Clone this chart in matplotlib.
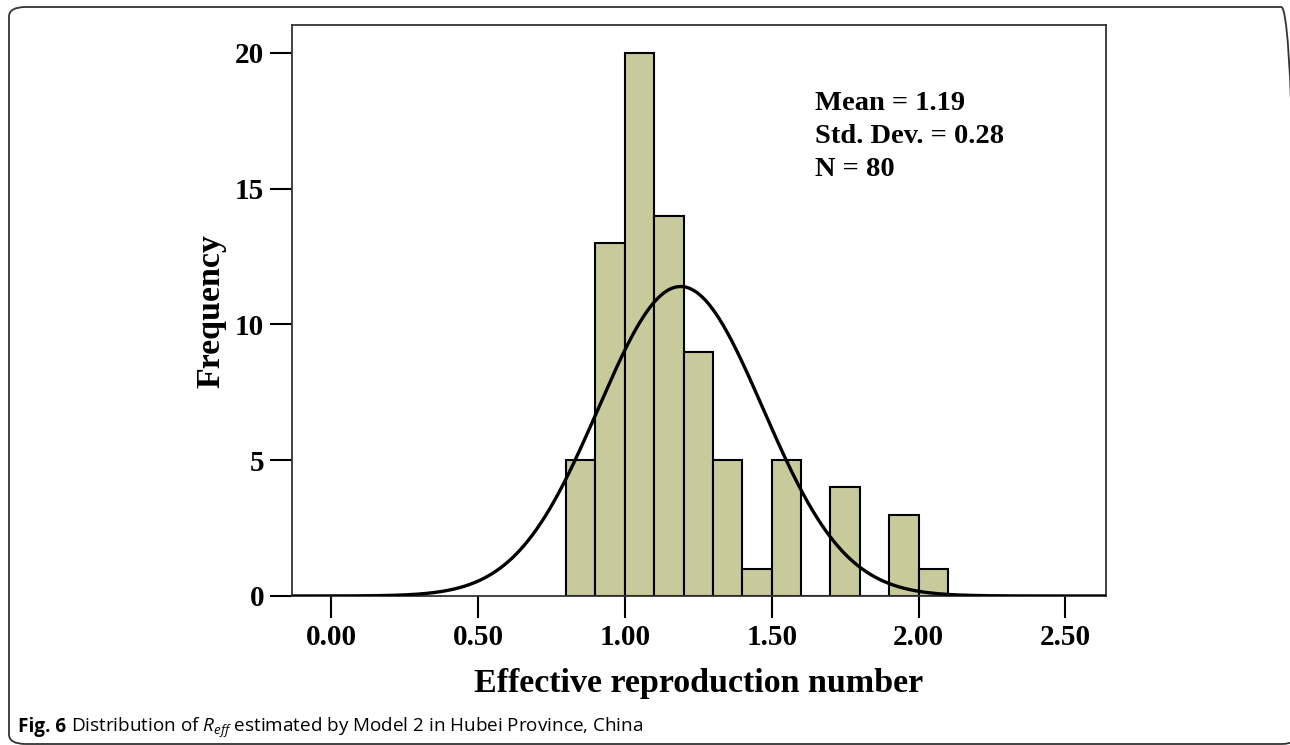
import numpy as np
import matplotlib
matplotlib.use("Agg")
import matplotlib.pyplot as plt
from matplotlib.patches import FancyBboxPatch

# histogram of R_eff (bin edges 0.8 .. 2.1, width 0.1)
bin_edges = [0.8, 0.9, 1.0, 1.1, 1.2, 1.3, 1.4, 1.5, 1.6, 1.7, 1.8, 1.9, 2.0, 2.1]
counts = [5, 13, 20, 14, 9, 5, 1, 5, 0, 4, 0, 3, 1]

mean_val = 1.19
std_val = 0.28
n_obs = 80

x_ticks = [0.0, 0.5, 1.0, 1.5, 2.0, 2.5]
y_ticks = [0, 5, 10, 15, 20]

serif = "Liberation Serif"
plt.rcParams["mathtext.fontset"] = "custom"
plt.rcParams["mathtext.rm"] = "Open Sans"
plt.rcParams["mathtext.it"] = "Open Sans:italic"
plt.rcParams["mathtext.bf"] = "Open Sans:bold"

W, H = 1290, 745
fig = plt.figure(figsize=(W / 100, H / 100), dpi=100)
ax = fig.add_axes([292 / W, 1 - 596 / H, (1106 - 292) / W, (596 - 25) / H])

# bars
edges = np.array(bin_edges)
ax.bar(edges[:-1], counts, width=np.diff(edges), align="edge",
       color="#c8ca9c", edgecolor="black", linewidth=1.5, zorder=2)

# fitted normal curve
xs = np.linspace(-0.14, 2.64, 600)
bw = edges[1] - edges[0]
ys = n_obs * bw / (std_val * np.sqrt(2 * np.pi)) * np.exp(-0.5 * ((xs - mean_val) / std_val) ** 2)
ax.plot(xs, ys, color="black", linewidth=2.4, zorder=3)

ax.set_xlim(-0.133, 2.638)
ax.set_ylim(0, 21.03)
ax.set_xticks(x_ticks)
ax.set_xticklabels([f"{v:.2f}" for v in x_ticks])
ax.set_yticks(y_ticks)

for sp in ax.spines.values():
    sp.set_color("#333333")
    sp.set_linewidth(1.3)

ax.tick_params(direction="out", length=16, width=1.5, color="black", pad=4)
for lab in ax.get_xticklabels() + ax.get_yticklabels():
    lab.set_fontfamily(serif)
    lab.set_fontweight("bold")
    lab.set_fontsize(21)

ax.set_xlabel("Effective reproduction number", fontfamily=serif,
              fontweight="bold", fontsize=24.5)
ax.set_ylabel("Frequency", fontfamily=serif, fontweight="bold", fontsize=24.5)
ax.xaxis.set_label_coords(0.5, -0.126)
ax.yaxis.set_label_coords(-0.081, 0.5)

# stats box
stats = [f"Mean = {mean_val:.2f}", f"Std. Dev. = {std_val:.2f}", f"N = {n_obs}"]
for i, s in enumerate(stats):
    ax.text(0.6425, 0.851 - i * 0.0578, s, transform=ax.transAxes,
            fontfamily=serif, fontweight="bold", fontsize=20.5,
            ha="left", va="baseline")

# caption: bold "Fig. 6" then the rest right after it
cap_y = 1 - 732 / H
t1 = fig.text(18 / W, cap_y, "Fig. 6", fontfamily="Open Sans",
              fontweight="bold", fontsize=13.6, ha="left", va="baseline")
renderer = fig.canvas.get_renderer()
x_end = t1.get_window_extent(renderer).x1
fig.text((x_end + 5) / W, cap_y,
         r"Distribution of $R_{eff}$ estimated by Model 2 in Hubei Province, China",
         fontfamily="Open Sans", fontsize=13.6, ha="left", va="baseline")

# rounded outer frame
frame = FancyBboxPatch((9 / W, 1 - 744 / H), (1298 - 9) / W, (744 - 7) / H,
                       boxstyle="round,pad=0,rounding_size=0.013",
                       transform=fig.transFigure, facecolor="none",
                       edgecolor="#333333", linewidth=1.3, clip_on=False)
fig.patches.append(frame)

fig.savefig("out.png", dpi=100)
